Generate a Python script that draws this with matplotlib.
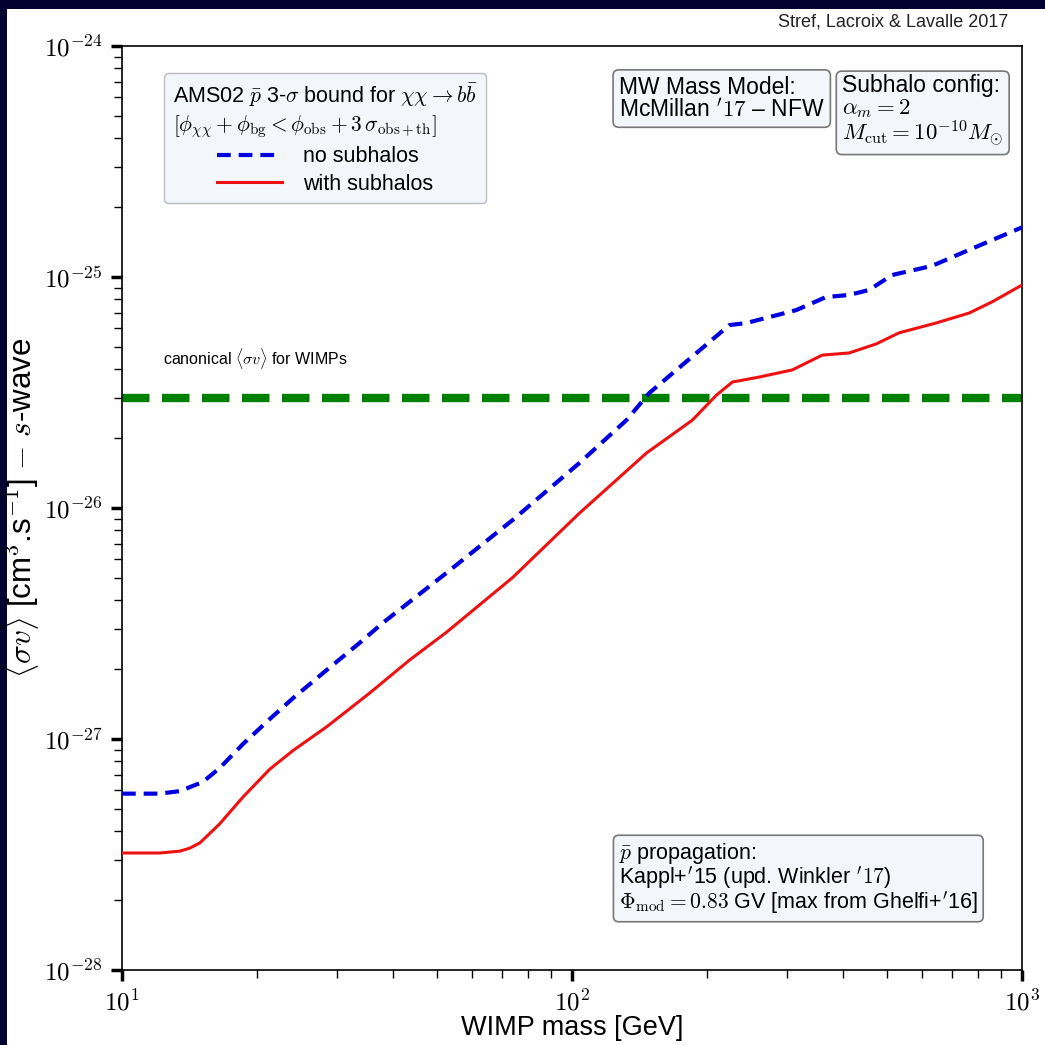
"""AMS02 antiproton bound on <sigma v> vs WIMP mass, with / without subhalos."""

import matplotlib

matplotlib.use("Agg")
import matplotlib.pyplot as plt
from matplotlib.lines import Line2D
from matplotlib.patches import Rectangle

plt.rcParams["font.family"] = ["Liberation Sans", "DejaVu Sans"]
plt.rcParams["mathtext.fontset"] = "cm"

# Data (mass in GeV, <sigma v> in cm^3/s)
mass_no_sub = [10, 10.96, 12.14, 13.45, 15.13, 16.5, 18.56, 21.3, 23.97, 28.51,
               33.76, 37.97, 52.63, 73.8, 103.9, 132.1, 148.6, 223.7, 244,
               315, 367, 413, 457.5, 514.5, 631, 762.7, 1000]
sv_no_sub = [5.8e-28, 5.8e-28, 5.8e-28, 5.95e-28, 6.52e-28, 7.5e-28, 9.5e-28,
             1.22e-27, 1.5e-27, 1.99e-27, 2.61e-27, 3.18e-27, 5.24e-27,
             8.87e-27, 1.567e-26, 2.40e-26, 3.15e-26, 6.19e-26, 6.32e-26,
             7.19e-26, 8.19e-26, 8.36e-26, 8.79e-26, 1.02e-25, 1.117e-25,
             1.31e-25, 1.64e-25]

mass_sub = [10, 12.14, 13.45, 14.15, 14.9, 16.5, 18.56, 21.3, 23.97, 28.51,
            35.5, 43.6, 52.63, 73.8, 103.9, 146.4, 185.1, 209.4, 227.2,
            260.8, 308.7, 359.7, 413, 474, 533, 644, 762.7, 857.8, 1000]
sv_sub = [3.21e-28, 3.21e-28, 3.27e-28, 3.37e-28, 3.55e-28, 4.3e-28, 5.6e-28,
          7.4e-28, 8.9e-28, 1.13e-27, 1.58e-27, 2.2e-27, 2.9e-27,
          5.0e-27, 9.5e-27, 1.73e-26, 2.40e-26, 3.08e-26, 3.51e-26, 3.69e-26,
          3.96e-26, 4.59e-26, 4.69e-26, 5.13e-26, 5.73e-26, 6.32e-26, 6.98e-26,
          7.8e-26, 9.23e-26]

sv_canonical = 3e-26
x_range = [10, 1000]
y_range = [1e-28, 1e-24]

navy = "#020230"

fig = plt.figure(figsize=(10.45, 10.45), dpi=100, facecolor=navy)
# white slide area (thin navy border on top and left)
fig.patches.append(Rectangle((7 / 1045, 0), 1, 1 - 9 / 1045, transform=fig.transFigure,
                             facecolor="white", edgecolor="none", zorder=-1))

ax = fig.add_axes([122 / 1045, 1 - 970 / 1045, 900 / 1045, 924 / 1045])
ax.set_xscale("log")
ax.set_yscale("log")
ax.set_xlim(x_range)
ax.set_ylim(y_range)

ax.axhline(sv_canonical, color="green", lw=6, dashes=(3.3, 1.5), zorder=2)
ax.plot(mass_no_sub, sv_no_sub, color="#0000dd", lw=3, dashes=(3.3, 1.9), zorder=3)
ax.plot(mass_sub, sv_sub, color="#ee1111", lw=2.2, zorder=3)

ax.text(12.35, 3.9e-26, r"canonical $\langle\sigma v\rangle$ for WIMPs", fontsize=11.5,
        va="bottom", ha="left")

# axes styling
for s in ax.spines.values():
    s.set_linewidth(1.2)
ax.tick_params(which="major", direction="out", length=8, width=2.5, labelsize=18,
               top=False, right=False, pad=6)
ax.tick_params(which="minor", direction="out", length=6, width=1, top=False, right=False)
ax.set_xticks([10, 100, 1000])
ax.set_xticklabels([r"$10^{1}$", r"$10^{2}$", r"$10^{3}$"])
ax.set_yticks([1e-28, 1e-27, 1e-26, 1e-25, 1e-24])
ax.set_yticklabels([r"$10^{-28}$", r"$10^{-27}$", r"$10^{-26}$", r"$10^{-25}$", r"$10^{-24}$"])

ax.set_xlabel("WIMP mass [GeV]", fontsize=19.5, labelpad=0)
ax.set_ylabel(r"$\langle\sigma v\rangle$ [cm$^3$.s$^{-1}$] $-$ $s$-wave", fontsize=22.5,
              labelpad=2)

# legend
handles = [Line2D([], [], color="#0000dd", lw=3, dashes=(3.3, 1.9)),
           Line2D([], [], color="#ee1111", lw=2.2)]
leg = ax.legend(handles, ["no subhalos", "with subhalos"], loc="upper left",
                bbox_to_anchor=(0.035, 0.982), fontsize=15.5, handlelength=3,
                title=r"AMS02 $\bar{p}$ 3-$\sigma$ bound for $\chi\chi\rightarrow b\bar{b}$"
                + "\n" + r"$[\phi_{\chi\chi}+\phi_{\rm bg}<\phi_{\rm obs}+3\,\sigma_{\rm obs+th}]$",
                title_fontsize=15.5, fancybox=True, framealpha=1, borderpad=0.4,
                labelspacing=0.3, handletextpad=1.0)
leg.get_frame().set_facecolor("#f3f7fb")
leg.get_frame().set_edgecolor("#bbbbbb")
leg._legend_box.align = "center"

box = dict(boxstyle="round,pad=0.25", facecolor="#f3f7fb", edgecolor="#777777", lw=1.2)
ax.text(0.552, 0.968, "MW Mass Model:\nMcMillan $'17$ – NFW", transform=ax.transAxes,
        fontsize=16.5, va="top", ha="left", bbox=box, linespacing=1.0)
ax.text(0.8, 0.97, "Subhalo config:\n" + r"$\alpha_m = 2$" + "\n"
        + r"$M_{\rm cut} = 10^{-10}M_{\odot}$", transform=ax.transAxes,
        fontsize=16.5, va="top", ha="left", bbox=box, linespacing=0.95)
ax.text(0.552, 0.14, r"$\bar{p}$ propagation:" + "\nKappl+$'$15 (upd. Winkler $'17$)\n"
        + r"$\Phi_{\rm mod} = 0.83$ GV [max from Ghelfi+$'$16]", transform=ax.transAxes,
        fontsize=15.5, va="top", ha="left", bbox=box, linespacing=0.95)

fig.text(1008 / 1045, 1 - 22 / 1045, "Stref, Lacroix & Lavalle 2017", fontsize=13,
         ha="right", va="center", color="#222222")

fig.savefig("out.png", dpi=100, facecolor=navy)
